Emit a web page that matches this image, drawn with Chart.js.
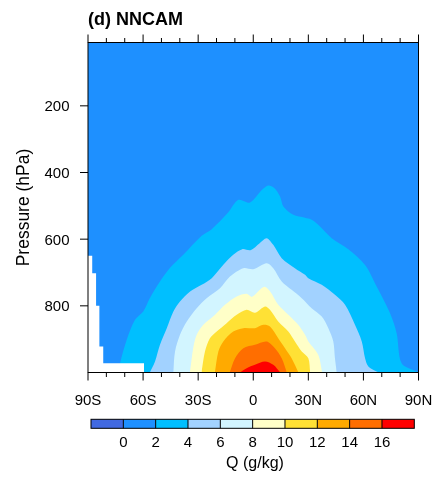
<!DOCTYPE html>
<html>
<head>
<meta charset="utf-8">
<script src="https://cdn.jsdelivr.net/npm/chart.js@4.4.1/dist/chart.umd.min.js"></script>
<style>
  html, body { margin: 0; padding: 0; background: #fff; }
  canvas { display: block; }
</style>
</head>
<body>
<canvas id="chart" width="436" height="477"></canvas>
<script>
// contour levels of Q (g/kg) and the colour of each band (below 0 ... above 16)
const levels = [0, 2, 4, 6, 8, 10, 12, 14, 16];
const bandColors = ['#4169E1', '#1E90FF', '#00BFFF', '#A2D2FF', '#D2F5FF',
                    '#FFFFC8', '#FFE135', '#FFAA00', '#FF6E00', '#FF0000'];

// latitude tick labels and pressure ticks
const latTicks = [-90, -60, -30, 0, 30, 60, 90];
const latLabels = ['90S', '60S', '30S', '0', '30N', '60N', '90N'];
const pressureTicks = [200, 400, 600, 800];

// upper edge (pressure, hPa) of each region Q >= level, by latitude
const q2Lat = [-73, -72.6, -68.9, -64.4, -59.9, -56.2, -50.8, -45.3, -38.1, -28.1, -22.6, -13.8, -8.1, -1.8, 4.8, 8.2, 11.3, 14.6, 16.4, 21.8, 28.2, 31.8, 35.4, 42.7, 51.8, 61, 67.2, 74.5, 78.1, 80.8, 89, 90];
const q2P   = [1000, 974, 902, 842, 817, 776, 727, 686, 647, 590, 570, 521, 482, 490, 452, 439, 446, 472, 502, 527, 536, 542, 557, 597, 630, 678, 742, 822, 882, 972, 997, 1000];

const q4Lat = [-56.3, -53.5, -50.8, -47.1, -43.5, -39.9, -34.4, -28.1, -22.6, -16.3, -10.9, -6, -1.5, 3.5, 7.3, 10.9, 15.5, 22.7, 28.2, 30, 37.3, 44.5, 50, 55.4, 59.1, 60.9, 62.7, 67.2, 70];
const q4P   = [1000, 967, 917, 867, 817, 787, 757, 737, 717, 677, 647, 630, 633, 612, 597, 617, 657, 687, 707, 717, 737, 767, 797, 857, 907, 957, 982, 997, 1000];

const q6Lat = [-43.6, -42.6, -39.9, -36.2, -30.8, -25.4, -18.1, -12.7, -5.4, 0, 7.3, 10.9, 15.5, 20.9, 26.4, 31.8, 37.3, 40.9, 43.6, 44.5, 45.5];
const q6P   = [1000, 937, 887, 847, 807, 777, 747, 712, 687, 690, 672, 687, 727, 752, 777, 807, 832, 867, 907, 957, 1000];

const q8Lat = [-34.5, -32.7, -30.8, -27.2, -20.8, -15.4, -9, -3.6, -0.7, 5.9, 9.2, 13.6, 19.1, 24.5, 28.2, 30, 35.4, 37.5];
const q8P   = [1000, 927, 887, 857, 827, 797, 772, 764, 773, 743, 757, 797, 827, 857, 887, 907, 947, 1000];

const q10Lat = [-28.2, -26.3, -23.6, -19.9, -14.5, -9, -3.6, 0.9, 6.4, 9.1, 13.6, 19.1, 22.7, 26.4, 30, 31];
const q10P   = [1000, 937, 897, 877, 852, 827, 812, 821, 802, 812, 847, 877, 907, 937, 957, 1000];

const q12Lat = [-20.9, -19, -16.3, -10.9, -5.4, 0.9, 5.5, 9.1, 13.6, 17.3, 20.9, 24.6];
const q12P   = [1000, 937, 907, 877, 867, 867, 857, 862, 897, 927, 957, 1000];

const q14Lat = [-12.8, -9.9, -5.4, 0.9, 7.3, 11.8, 15.5, 18.3];
const q14P   = [1000, 957, 927, 917, 907, 927, 957, 1000];

const q16Lat = [-7.3, -3.6, 0.9, 6.4, 10.9, 14.7];
const q16P   = [1000, 987, 977, 967, 977, 1000];

// missing data under the Antarctic surface (stepped)
const maskLat = [-90, -87.7, -85.6, -83.8, -81.7, -59.5];
const maskP   = [650, 702, 800, 922, 972, 1000];

const contours = [
  [q2Lat, q2P], [q4Lat, q4P], [q6Lat, q6P], [q8Lat, q8P],
  [q10Lat, q10P], [q12Lat, q12P], [q14Lat, q14P], [q16Lat, q16P]
];

const toPoints = (lats, ps) => lats.map((lat, i) => ({ x: lat, y: ps[i] }));

const datasets = contours.map(([lats, ps], i) => ({
  data: toPoints(lats, ps),
  backgroundColor: bandColors[i + 2],
  borderWidth: 0,
  pointRadius: 0,
  tension: 0.3,
  fill: { value: 1000 },
  order: contours.length - i
}));
datasets.push({
  data: toPoints(maskLat, maskP),
  backgroundColor: '#ffffff',
  borderWidth: 0,
  pointRadius: 0,
  stepped: true,
  fill: { value: 1000 },
  order: 0
});

const FONT = '"Liberation Sans", Arial, Helvetica, sans-serif';

const nclFrame = {
  id: 'nclFrame',
  beforeDatasetsDraw(chart) {
    const { ctx, chartArea: a } = chart;
    ctx.save();
    ctx.fillStyle = bandColors[1];
    ctx.fillRect(a.left, a.top, a.right - a.left, a.bottom - a.top);
    ctx.restore();
  },
  afterDatasetsDraw(chart) {
    const { ctx, chartArea: a, scales: { x, y } } = chart;
    ctx.save();
    ctx.strokeStyle = '#000';
    ctx.lineWidth = 1;
    ctx.strokeRect(a.left, a.top, a.right - a.left, a.bottom - a.top);

    // ticks
    ctx.beginPath();
    for (let lat = -90; lat <= 90; lat += 10) {
      const px = x.getPixelForValue(lat);
      const len = latTicks.includes(lat) ? 8 : 4.5;
      ctx.moveTo(px, a.bottom); ctx.lineTo(px, a.bottom + len);
      ctx.moveTo(px, a.top); ctx.lineTo(px, a.top - len);
    }
    pressureTicks.forEach(p => {
      const py = y.getPixelForValue(p);
      ctx.moveTo(a.left, py); ctx.lineTo(a.left - 8, py);
    });
    ctx.stroke();

    // tick labels
    ctx.fillStyle = '#000';
    ctx.font = '15px ' + FONT;
    ctx.textAlign = 'center';
    ctx.textBaseline = 'alphabetic';
    latTicks.forEach((lat, i) => ctx.fillText(latLabels[i], x.getPixelForValue(lat), a.bottom + 32.5));
    ctx.textAlign = 'right';
    pressureTicks.forEach(p => ctx.fillText(String(p), a.left - 18.5, y.getPixelForValue(p) + 5.5));

    // title
    ctx.textAlign = 'left';
    ctx.font = 'bold 18px ' + FONT;
    ctx.fillText('(d) NNCAM', a.left, 24.5);

    // y axis title
    ctx.save();
    ctx.translate(28.5, 207.5);
    ctx.rotate(-Math.PI / 2);
    ctx.textAlign = 'center';
    ctx.font = '17.5px ' + FONT;
    ctx.fillText('Pressure (hPa)', 0, 0);
    ctx.restore();

    // colour bar
    const cbLeft = 91, cbRight = 414.3, cbTop = 419.3, cbBottom = 428.3;
    const boxW = (cbRight - cbLeft) / bandColors.length;
    bandColors.forEach((c, i) => {
      ctx.fillStyle = c;
      ctx.fillRect(cbLeft + i * boxW, cbTop, boxW, cbBottom - cbTop);
    });
    ctx.strokeStyle = '#000';
    ctx.lineWidth = 1;
    ctx.strokeRect(cbLeft, cbTop, cbRight - cbLeft, cbBottom - cbTop);
    ctx.beginPath();
    for (let i = 1; i < bandColors.length; i++) {
      ctx.moveTo(cbLeft + i * boxW, cbTop);
      ctx.lineTo(cbLeft + i * boxW, cbBottom);
    }
    ctx.stroke();
    ctx.fillStyle = '#000';
    ctx.font = '15px ' + FONT;
    ctx.textAlign = 'center';
    levels.forEach((lv, i) => ctx.fillText(String(lv), cbLeft + (i + 1) * boxW, 447.3));
    ctx.font = '16px ' + FONT;
    ctx.fillText('Q (g/kg)', 255, 468);
    ctx.restore();
  }
};

new Chart(document.getElementById('chart'), {
  type: 'line',
  data: { datasets },
  options: {
    responsive: false,
    animation: false,
    devicePixelRatio: 1,
    layout: { padding: { left: 88, top: 42.5, right: 17.5, bottom: 104.5 } },
    plugins: { legend: { display: false }, tooltip: { enabled: false } },
    scales: {
      x: { type: 'linear', min: -90, max: 90, display: false },
      y: { type: 'linear', min: 10, max: 1000, reverse: true, display: false }
    }
  },
  plugins: [nclFrame]
});
</script>
</body>
</html>
